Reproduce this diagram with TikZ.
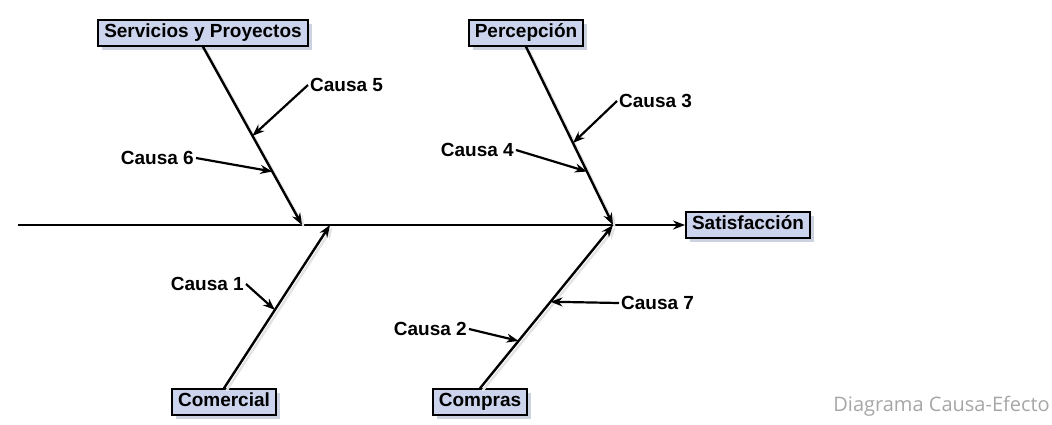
\documentclass[tikz,border=0pt]{standalone}
\usepackage{fontspec}
\setmainfont{Liberation Sans}
\newfontfamily\captionfont{Open Sans}
\usepackage{xcolor}
\usetikzlibrary{arrows.meta, shadows, calc}

\definecolor{boxblue}{RGB}{203,212,236}
\definecolor{shadowblue}{RGB}{205,210,225}

\begin{document}
\begin{tikzpicture}[x=1pt, y=-1pt, >={Stealth[length=12pt, width=9pt]},
    categoria/.style={draw=black, line width=2pt, fill=boxblue,
        font=\fontsize{19}{22}\selectfont\bfseries, inner xsep=6pt, inner ysep=4pt,
        text height=13.5pt, text depth=4pt,
        drop shadow={shadow xshift=4pt, shadow yshift=-4pt, fill=shadowblue, opacity=1}},
    causa/.style={font=\fontsize{19}{22}\selectfont\bfseries, inner sep=2pt},
    hueso/.style={->, line width=2.4pt,
        preaction={draw=gray!22, line width=2.4pt, transform canvas={shift={(2.5pt,-2.5pt)}}}},
    flecha/.style={->, line width=2.2pt}]
    \useasboundingbox (0,0) rectangle (1052,424);

    % --- CAPA 1: CATEGORIAS Y EFECTO ---
    \node[categoria] (serv) at (203,33)  {Servicios y Proyectos};
    \node[categoria] (perc) at (526,33)  {Percepción};
    \node[categoria] (come) at (224,402) {Comercial};
    \node[categoria] (comp) at (480,402) {Compras};
    \node[categoria] (sat)  at (748,225) {Satisfacción};

    % --- CAPA 2: ESPINA CENTRAL ---
    \coordinate (inicio) at (18,225);
    \coordinate (j1) at (302,225);
    \coordinate (j2) at (613,225);
    \coordinate (j3) at (330,225);
    \draw[->, line width=2.4pt] (inicio) -- (sat.west);

    % --- CAPA 3: HUESOS ---
    \draw[hueso] (serv.south) -- (j1);
    \draw[hueso] (perc.south) -- (j2);
    \draw[hueso] (come.north) -- (j3);
    \draw[hueso] (comp.north) -- (j2);

    % puntos sobre los huesos
    \coordinate (c5) at ($(serv.south)!0.50!(j1)$);
    \coordinate (c6) at ($(serv.south)!0.70!(j1)$);
    \coordinate (c3) at ($(perc.south)!0.54!(j2)$);
    \coordinate (c4) at ($(perc.south)!0.70!(j2)$);
    \coordinate (c1) at ($(come.north)!0.48!(j3)$);
    \coordinate (c2) at ($(comp.north)!0.29!(j2)$);
    \coordinate (c7) at ($(comp.north)!0.53!(j2)$);

    % --- CAPA 4: CAUSAS ---
    \node[causa, anchor=west] (t5) at (308,85)  {Causa 5};
    \node[causa, anchor=east] (t6) at (196,158) {Causa 6};
    \node[causa, anchor=west] (t3) at (617,101) {Causa 3};
    \node[causa, anchor=east] (t4) at (516,150) {Causa 4};
    \node[causa, anchor=east] (t1) at (246,284) {Causa 1};
    \node[causa, anchor=east] (t2) at (469,329) {Causa 2};
    \node[causa, anchor=west] (t7) at (619,303) {Causa 7};

    \foreach \t/\c in {t5/c5, t3/c3, t7/c7} {
        \draw[flecha] (\t.west) -- (\c);
    }
    \foreach \t/\c in {t6/c6, t4/c4, t1/c1, t2/c2} {
        \draw[flecha] (\t.east) -- (\c);
    }

    % --- CAPA 5: TITULO ---
    \node[anchor=base east, inner sep=0pt, text=gray!70, font=\captionfont\fontsize{20}{24}\selectfont]
        (titulo) at (1050,411) {Diagrama Causa-Efecto};

\end{tikzpicture}
\end{document}
